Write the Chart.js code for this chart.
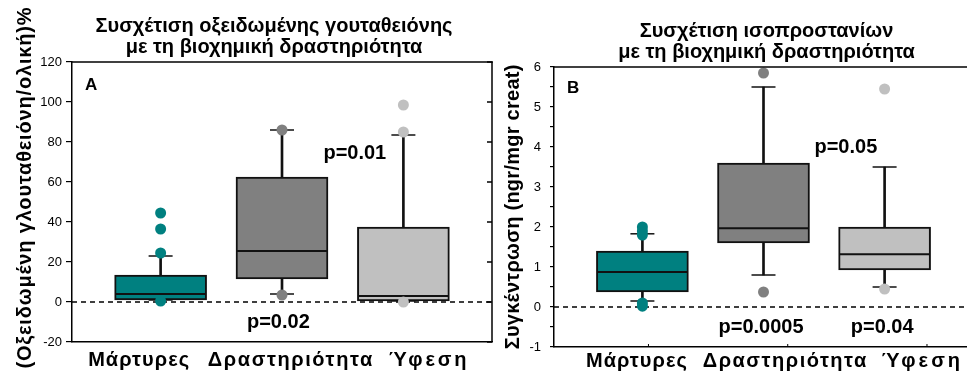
<!DOCTYPE html>
<html>
<head>
<meta charset="utf-8">
<script src="https://cdn.jsdelivr.net/npm/chart.js@4.4.0/dist/chart.umd.min.js"></script>
<style>
  html, body { margin: 0; padding: 0; background: #fff; }
  #wrap { position: relative; width: 967px; height: 372px; overflow: hidden; }
  #boxA { position: absolute; left: 0; top: 0; width: 496px; height: 372px; }
  #boxB { position: absolute; left: 493px; top: 0; width: 474px; height: 372px; overflow: hidden; }
  #boxB .inner { width: 484px; height: 372px; }
</style>
</head>
<body>
<div id="wrap">
  <div id="boxA"><canvas id="chartA"></canvas></div>
  <div id="boxB"><div class="inner"><canvas id="chartB"></canvas></div></div>
</div>
<script>
// --- data ---
const categories = ['Μάρτυρες', 'Δραστηριότητα', 'Ύφεση'];
const boxColors = ['#008080', '#808080', '#c0c0c0'];

// A: οξειδωμένη γλουταθειόνη (%)
const gshQ1 = [1, 11.5, 0.5];
const gshMedian = [4, 25.5, 3];
const gshQ3 = [13.5, 62.5, 37.5];
const gshWhiskerLow = [1, 4, 0.5];
const gshWhiskerHigh = [23, 86, 83.5];
const gshOutlierGroup = [0, 0, 0, 0, 1, 1, 2, 2, 2];
const gshOutliers = [44.5, 36.5, 24.5, 0.5, 86, 3.5, 98.5, 85, 0];
const gshTicks = [-20, 0, 20, 40, 60, 80, 100, 120];
const gshPText = ['p=0.02', 'p=0.01'];
const gshPAt = [[0.97, -10], [1.6, 74.5]];

// B: ισοπροστάνια (ngr/mgr creat)
const isoQ1 = [0.375, 1.6, 0.925];
const isoMedian = [0.875, 1.97, 1.32];
const isoQ3 = [1.4, 3.6, 2.0];
const isoWhiskerLow = [0.15, 0.8, 0.5];
const isoWhiskerHigh = [1.83, 5.5, 3.5];
const isoOutlierGroup = [0, 0, 0, 0, 0, 1, 1, 2, 2];
const isoOutliers = [2.0, 1.9, 1.8, 0.1, 0.02, 5.85, 0.375, 5.45, 0.45];
const isoTicks = [-1, -0.5, 0, 0.5, 1, 1.5, 2, 2.5, 3, 3.5, 4, 4.5, 5, 5.5, 6];
const isoPText = ['p=0.0005', 'p=0.04', 'p=0.05'];
const isoPAt = [[0.98, -0.52], [1.98, -0.52], [1.68, 4.0]];

const FONT = "'Liberation Sans', Arial, sans-serif";

// αραιό κείμενο: κενό ανάμεσα στα γράμματα ώστε να πιάνει το ζητούμενο πλάτος
function spacedText(ctx, text, x, y, width) {
  ctx.letterSpacing = '0px';
  const gap = Math.max(0, (width - ctx.measureText(text).width) / text.length);
  ctx.letterSpacing = `${gap}px`;
  ctx.fillText(text, x + gap / 2, y);
  ctx.letterSpacing = '0px';
}

/**
 * πλαίσιο, τίτλοι, διακεκομμένη γραμμή στο 0, ετικέτες κατηγοριών, p-τιμές
 */
const boxFrame = {
  id: 'boxFrame',
  beforeDatasetsDraw(chart, args, o) {
    const { ctx, chartArea: a, scales: { y } } = chart;
    const y0 = y.getPixelForValue(0);
    ctx.save();
    ctx.strokeStyle = '#000';
    ctx.lineWidth = 1.5;
    ctx.setLineDash([5, 4]);
    ctx.beginPath(); ctx.moveTo(a.left, y0); ctx.lineTo(a.right, y0); ctx.stroke();
    ctx.restore();
  },
  afterDraw(chart, args, o) {
    const { ctx, chartArea: a, scales: { x, y } } = chart;
    ctx.save();
    ctx.strokeStyle = '#000';
    ctx.lineWidth = 1.5;
    ctx.beginPath(); ctx.moveTo(a.left, a.top); ctx.lineTo(a.right + 1, a.top); ctx.stroke();
    if (o.rightBorder) {
      ctx.beginPath(); ctx.moveTo(a.right, a.top); ctx.lineTo(a.right, a.bottom); ctx.stroke();
      y.ticks.forEach((t) => {
        const py = y.getPixelForValue(t.value);
        ctx.beginPath(); ctx.moveTo(a.right, py); ctx.lineTo(a.right - 5, py); ctx.stroke();
      });
    }
    if (o.bottomTicks) {
      ctx.lineWidth = 1;
      o.bottomTicks.forEach((v) => {
        const px = x.getPixelForValue(v);
        ctx.beginPath(); ctx.moveTo(px, a.bottom); ctx.lineTo(px, a.bottom - 3); ctx.stroke();
      });
    }
    ctx.fillStyle = '#000';
    ctx.textAlign = 'center';

    // τίτλος
    ctx.font = `bold 20px ${FONT}`;
    ctx.textBaseline = 'alphabetic';
    const tx = (a.left + a.right) / 2 + o.titleDx;
    ctx.fillText(o.title[0], tx, a.top - 30);
    ctx.fillText(o.title[1], tx, a.top - 9);

    // τίτλος άξονα y
    ctx.save();
    ctx.translate(a.left - o.yTitleDx, o.yTitleY);
    ctx.rotate(-Math.PI / 2);
    ctx.textBaseline = 'middle';
    spacedText(ctx, o.yTitle, 0, 0, o.yTitleWidth);
    ctx.restore();

    // κατηγορίες
    ctx.font = `bold 20px ${FONT}`;
    ctx.textBaseline = 'alphabetic';
    categories.forEach((c, i) => {
      spacedText(ctx, c, x.getPixelForValue(i) + o.labelShift[i], a.bottom + o.labelDy, o.labelWidth[i]);
    });

    // p-τιμές
    ctx.font = `bold 20px ${FONT}`;
    ctx.textBaseline = 'middle';
    o.pText.forEach((t, i) => {
      ctx.fillText(t, x.getPixelForValue(o.pAt[i][0]), y.getPixelForValue(o.pAt[i][1]));
    });

    // γράμμα πάνελ
    ctx.textAlign = 'left';
    ctx.textBaseline = 'top';
    ctx.font = `bold 17px ${FONT}`;
    ctx.fillText(o.letter, a.left + 13, a.top + o.letterDy);
    ctx.restore();
  },
};

function createBoxChart(canvasId, s) {
  const ctx = document.getElementById(canvasId)?.getContext('2d');
  if (!ctx) return null;
  const idx = categories.map((c, i) => i);

  return new Chart(ctx, {
    data: {
      datasets: [
        {
          type: 'bar',
          data: idx.map((i) => ({ x: i, y: [s.wLow[i], s.wHigh[i]] })),
          backgroundColor: '#111',
          barThickness: 2, maxBarThickness: 2,
          grouped: false, order: 5,
        },
        {
          type: 'bar',
          data: idx.map((i) => ({ x: i, y: [s.q1[i], s.q3[i]] })),
          backgroundColor: boxColors,
          borderColor: '#111', borderWidth: 2, borderSkipped: false,
          barThickness: 92, maxBarThickness: 92,
          grouped: false, order: 4,
        },
        {
          type: 'line', showLine: false,
          data: idx.map((i) => ({ x: i, y: s.median[i] })),
          pointStyle: 'line', pointRadius: 45,
          borderColor: '#111', pointBorderWidth: 2, order: 3,
        },
        {
          type: 'line', showLine: false,
          data: idx.map((i) => ({ x: i, y: s.wHigh[i] })).concat(idx.map((i) => ({ x: i, y: s.wLow[i] }))),
          pointStyle: 'line', pointRadius: 12,
          borderColor: '#111', pointBorderWidth: 1.5, order: 2,
        },
        {
          type: 'line', showLine: false,
          data: s.outliers.map((v, i) => ({ x: s.group[i], y: v })),
          pointStyle: 'circle', pointRadius: 5.5, borderWidth: 0, pointBorderWidth: 0,
          backgroundColor: s.group.map((g) => boxColors[g]),
          order: 1,
        },
      ],
    },
    options: {
      responsive: true,
      maintainAspectRatio: false,
      animation: false,
      events: [],
      layout: { padding: s.padding, autoPadding: false },
      plugins: {
        legend: { display: false },
        tooltip: { enabled: false },
        title: { display: false },
        boxFrame: s.frame,
      },
      scales: {
        x: {
          type: 'linear', min: -0.73, max: 2.73, offset: false,
          afterBuildTicks: (sc) => { sc.ticks = idx.map((i) => ({ value: i })); },
          afterFit: (sc) => { sc.height = 0; },
          ticks: { display: false },
          grid: { display: false, drawTicks: false, offset: false },
          border: { display: true, color: '#000', width: 1.5 },
        },
        y: {
          min: s.yTicks[0], max: s.yTicks[s.yTicks.length - 1],
          afterBuildTicks: (sc) => { sc.ticks = s.yTicks.map((v) => ({ value: v })); },
          afterFit: (sc) => { sc.width = s.yWidth; },
          ticks: {
            color: '#000', font: { family: FONT, size: 13 }, padding: s.tickPad,
            callback: (v) => (Number.isInteger(v) ? v : ''),
          },
          grid: { drawOnChartArea: false, color: '#000', tickLength: s.tickLen, lineWidth: 1.2 },
          border: { color: '#000', width: 1.5 },
        },
      },
    },
    plugins: [boxFrame],
  });
}

createBoxChart('chartA', {
  q1: gshQ1, median: gshMedian, q3: gshQ3, wLow: gshWhiskerLow, wHigh: gshWhiskerHigh,
  outliers: gshOutliers, group: gshOutlierGroup, yTicks: gshTicks,
  padding: { left: 0, right: 4, top: 62, bottom: 30 },
  yWidth: 72, tickPad: 4, tickLen: 6,
  frame: {
    title: ['Συσχέτιση οξειδωμένης γουταθειόνης', 'με τη βιοχημική δραστηριότητα'], titleDx: -8,
    yTitle: '(Οξειδωμένη γλουταθειόνη/ολική)%', yTitleDx: 47, yTitleY: 188, yTitleWidth: 362,
    rightBorder: true, labelShift: [-22, 8, 24], labelDy: 24, labelWidth: [102, 166, 81],
    pText: gshPText, pAt: gshPAt, letter: 'A', letterDy: 15,
  },
});

createBoxChart('chartB', {
  q1: isoQ1, median: isoMedian, q3: isoQ3, wLow: isoWhiskerLow, wHigh: isoWhiskerHigh,
  outliers: isoOutliers, group: isoOutlierGroup, yTicks: isoTicks,
  padding: { left: 0, right: 4, top: 67, bottom: 25 },
  yWidth: 61, tickPad: 9, tickLen: 4,
  frame: {
    title: ['Συσχέτιση ισοπροστανίων', 'με τη βιοχημική δραστηριότητα'], titleDx: 3,
    yTitle: 'Συγκέντρωση (ngr/mgr creat)', yTitleDx: 41, yTitleY: 207, yTitleWidth: 285,
    rightBorder: false, labelShift: [-6, 21, 36], labelDy: 20, labelWidth: [102, 165, 82],
    bottomTicks: [0.05, 1.2, 2.35],
    pText: isoPText, pAt: isoPAt, letter: 'B', letterDy: 13,
  },
});
</script>
</body>
</html>
